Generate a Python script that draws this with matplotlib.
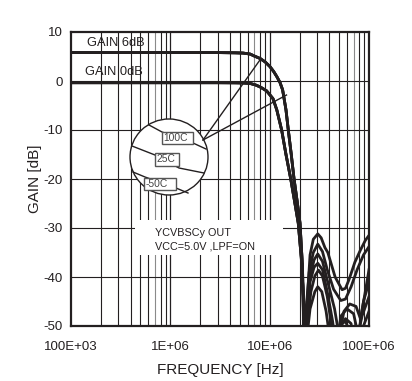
import numpy as np
import matplotlib
matplotlib.use("Agg")
import matplotlib.pyplot as plt
from matplotlib.patches import Ellipse, Rectangle
from matplotlib.ticker import FixedLocator, NullFormatter

plt.rcParams['font.family'] = ['Liberation Sans', 'DejaVu Sans']

# ---------------- data (frequency in MHz, gain in dB) ----------------
x_ticks = [1e5, 1e6, 1e7, 1e8]
x_tick_labels = ["100E+03", "1E+06", "10E+06", "100E+06"]
y_ticks = [10, 0, -10, -20, -30, -40, -50]

# passband + transition (shared by the three temperatures)
f_6db = [0.1, 1.0, 3.0, 4.5, 5.4, 6.35, 7.0, 8.0, 9.0, 10.1, 11.0, 11.8,
         12.7, 13.5, 14.6, 15.4, 16.5, 17.6, 18.9, 20.2, 21.4]
g_6db = [5.8, 5.8, 5.8, 5.75, 5.7, 5.5, 5.1, 4.6, 3.9, 2.9, 1.9, 0.9,
         -0.3, -1.8, -5.9, -10.0, -15.0, -20.0, -24.5, -29.0, -38.0]

f_0db = [0.1, 1.0, 3.0, 4.5, 5.4, 6.35, 7.2, 8.0, 9.3, 10.8, 11.8, 13.2,
         14.6, 16.3, 17.8, 19.4, 20.8, 22.0]
g_0db = [-0.35, -0.35, -0.35, -0.37, -0.4, -0.5, -0.8, -1.2, -2.0, -3.6, -5.9, -10.0,
         -15.0, -20.0, -24.5, -29.0, -36.0, -45.0]

# stop-band ripple, one per temperature (100C, 25C, -50C)
stop_f_6db_100 = [22.8, 23.5, 25.5, 27.5, 30.5, 33.0, 36.0, 38.5, 45.6, 53.6, 58.0, 63.0, 72.0, 82.0, 92.0, 100.0]
stop_g_6db_100 = [-65, -47, -35.5, -32.3, -31.2, -32.0, -34.0, -35.0, -40.0, -42.6, -42.3, -40.5, -37.0, -34.5, -32.5, -31.5]

stop_f_6db_25 = [22.6, 23.4, 25.5, 28.0, 30.5, 34.0, 39.0, 45.0, 50.0, 56.0, 64.0, 74.0, 82.0, 90.0, 100.0]
stop_g_6db_25 = [-65, -50, -40.0, -36.5, -35.3, -36.8, -41.5, -46.5, -52.0, -47.0, -45.5, -46.0, -48.5, -44.0, -38.5]

stop_f_6db_m50 = [22.9, 23.8, 26.0, 28.5, 31.0, 34.0, 38.0, 42.0, 46.0, 52.0, 58.0, 66.0, 72.0, 85.0, 100.0]
stop_g_6db_m50 = [-65, -50, -43.0, -39.8, -38.6, -39.8, -44.0, -50.0, -56.0, -50.0, -48.5, -49.5, -55.0, -48.0, -44.0]

stop_f_0db_100 = [22.4, 23.2, 25.0, 27.5, 30.5, 34.0, 38.0, 44.0, 52.0, 58.0, 66.0, 76.0, 88.0, 100.0]
stop_g_0db_100 = [-65, -47, -39.0, -35.0, -33.3, -34.8, -38.5, -42.5, -44.8, -44.5, -42.0, -38.5, -35.5, -33.8]

stop_f_0db_25 = [22.3, 23.3, 25.5, 28.0, 30.5, 34.0, 38.0, 43.0, 47.0, 52.0, 60.0, 70.0, 78.0, 88.0, 100.0]
stop_g_0db_25 = [-65, -50, -41.0, -38.0, -37.2, -38.5, -43.0, -49.0, -55.0, -48.0, -46.5, -47.5, -52.0, -45.0, -41.0]

stop_f_0db_m50 = [22.2, 23.5, 25.5, 28.5, 30.5, 33.5, 37.0, 40.0, 44.0, 50.0, 58.0, 66.0, 75.0, 88.0, 100.0]
stop_g_0db_m50 = [-65, -53, -46.5, -43.0, -42.0, -43.0, -47.0, -52.0, -56.0, -50.0, -49.0, -52.0, -58.0, -50.0, -47.0]

curves = [
    (f_6db, g_6db, stop_f_6db_100, stop_g_6db_100),
    (f_6db, g_6db, stop_f_6db_25, stop_g_6db_25),
    (f_6db, g_6db, stop_f_6db_m50, stop_g_6db_m50),
    (f_0db, g_0db, stop_f_0db_100, stop_g_0db_100),
    (f_0db, g_0db, stop_f_0db_25, stop_g_0db_25),
    (f_0db, g_0db, stop_f_0db_m50, stop_g_0db_m50),
]

temp_labels = ["100C", "25C", "-50C"]
gain_labels = ["GAIN 6dB", "GAIN 0dB"]
note_lines = ["YCVBSCy OUT", "VCC=5.0V ,LPF=ON"]

# ---------------- figure ----------------
INK = "#231f20"
fig = plt.figure(figsize=(4.12, 3.81), dpi=100)
ax = fig.add_axes([71 / 412, 55 / 381, 298 / 412, 294 / 381])
ax.set_xscale("log")
ax.set_xlim(1e5, 1e8)
ax.set_ylim(-50, 10)

# grid
minor = []
for dec in [1e5, 1e6, 1e7]:
    for m in range(2, 10):
        minor.append(dec * m)
for v in minor:
    col = "#8a8a8a" if str(int(v / 10 ** int(np.floor(np.log10(v)))))[0] == "7" else INK
    ax.axvline(v, color=col, lw=0.8, zorder=1)
for v in [1e6, 1e7]:
    ax.axvline(v, color=INK, lw=0.9, zorder=1)
for v in [0, -10, -20, -30, -40]:
    ax.axhline(v, color=INK, lw=0.8, zorder=1)

# white note box hiding grid
ax.add_patch(Rectangle((0.215, 0.2415), 0.496, 0.119, transform=ax.transAxes,
                       facecolor="white", edgecolor="none", zorder=2))
ax.text(0.282, 0.316, note_lines[0], transform=ax.transAxes, fontsize=7.8,
        color=INK, va="center", ha="left", zorder=3)
ax.text(0.282, 0.272, note_lines[1], transform=ax.transAxes, fontsize=7.8,
        color=INK, va="center", ha="left", zorder=3)

# curves
for fp, gp, fs, gs in curves:
    f = np.array(list(fp) + list(fs)) * 1e6
    g = np.array(list(gp) + list(gs))
    ax.plot(f, g, color=INK, lw=2.0, solid_joinstyle="round", zorder=4)

# gain labels
ax.text(0.054, 0.963, gain_labels[0], transform=ax.transAxes, fontsize=9.3,
        color=INK, va="center", ha="left", zorder=5)
ax.text(0.047, 0.864, gain_labels[1], transform=ax.transAxes, fontsize=9.3,
        color=INK, va="center", ha="left", zorder=5)

# inset circle with temperature labels (axes-fraction helper from pixel layout)
def P(px, py):
    return ((px - 71) / 298, (326 - py) / 294)

cx, cy = P(169, 157)
ax.add_patch(Ellipse((cx, cy), 78 / 298, 76 / 294, transform=ax.transAxes,
                     facecolor="white", edgecolor=INK, lw=1.0, zorder=6))
# pointer lines
for end in [(261, 58.5), (286.5, 95)]:
    a = P(203, 140)
    b = P(*end)
    ax.plot([a[0], b[0]], [a[1], b[1]], transform=ax.transAxes, color=INK, lw=1.0, zorder=6)

inner_lines = [
    [(149, 125), (162, 132), (193, 143), (206, 149)],
    [(132, 146), (155, 155), (179, 168), (204, 173)],
    [(133, 172), (145, 177), (176, 188), (188, 193)],
]
for pts in inner_lines:
    q = [P(*p) for p in pts]
    ax.plot([p[0] for p in q], [p[1] for p in q], transform=ax.transAxes,
            color=INK, lw=1.0, zorder=7)

boxes = [(162, 132, 193, 143.5), (155, 153, 179, 166), (144, 178, 176, 190)]
for (x0, y0, x1, y1), lab in zip(boxes, temp_labels):
    a = P(x0, y1)
    w = (x1 - x0) / 298
    h = (y1 - y0) / 294
    ax.add_patch(Rectangle(a, w, h, transform=ax.transAxes, facecolor="white",
                           edgecolor="#555555", lw=1.0, zorder=8))
    ax.text(a[0] + 0.004, a[1] + h / 2, lab, transform=ax.transAxes, fontsize=7.4,
            color="#444444", va="center", ha="left", zorder=9)

# axes styling
ax.set_xticks(x_ticks)
ax.set_xticklabels(x_tick_labels)
ax.xaxis.set_minor_locator(FixedLocator(minor))
ax.xaxis.set_minor_formatter(NullFormatter())
ax.set_yticks(y_ticks)
ax.set_yticklabels([str(v) for v in y_ticks])
ax.tick_params(which="both", length=0)
ax.tick_params(axis="x", pad=11, labelsize=9.5, colors=INK)
ax.tick_params(axis="y", pad=6, labelsize=9.5, colors=INK)
for s in ax.spines.values():
    s.set_color(INK)
    s.set_linewidth(1.6)
    s.set_zorder(10)
ax.set_xlabel("FREQUENCY [Hz]", fontsize=11, color=INK, labelpad=7)
ax.set_ylabel("GAIN [dB]", fontsize=11, color=INK, labelpad=1)

fig.savefig("out.png", dpi=100)
